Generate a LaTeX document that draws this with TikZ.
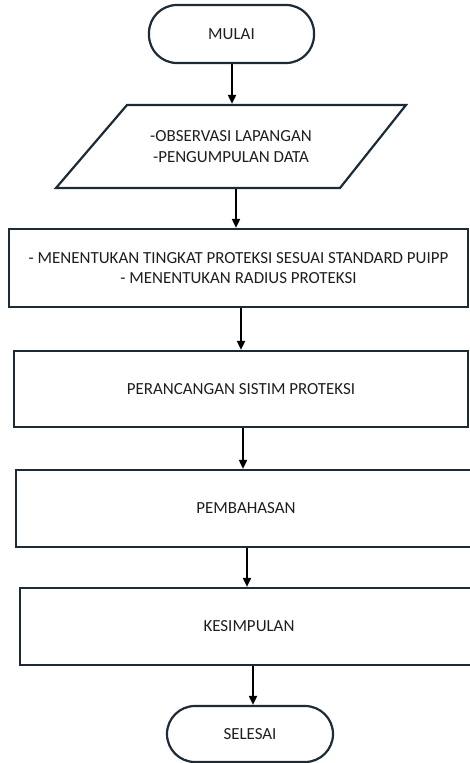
\documentclass[tikz,border=0pt]{standalone}
\usepackage{fontspec}
\setmainfont{Carlito}
\usetikzlibrary{arrows.meta,calc}
\definecolor{edgec}{RGB}{28,43,54}
\definecolor{txtc}{RGB}{30,30,30}
\tikzset{
 box/.style={draw=edgec, line width=2.2bp, rectangle, align=center, text=txtc, font=\fontsize{17}{20.5}\selectfont, inner sep=0pt},
 term/.style={box, rounded corners=28bp},
 arr/.style={-{Triangle[length=9bp,width=8bp]}, line width=1.8bp, black},
}
\begin{document}
\begin{tikzpicture}[x=1bp,y=-1bp]
\useasboundingbox (0,0) rectangle (470,763);
\node[term, minimum width=165bp, minimum height=58bp] (start) at (231.5,34) {MULAI};
\draw[edgec, line width=2.2bp, line join=miter] (127,105) -- (406,105) -- (340,188) -- (56,188) -- cycle;
\node[box, draw=none, minimum height=83bp, minimum width=200bp] (data) at (231,146.5) {-OBSERVASI LAPANGAN\\-PENGUMPULAN DATA};
\node[box, minimum width=459bp, minimum height=78bp] (b2) at (238.5,268) {- MENENTUKAN TINGKAT PROTEKSI SESUAI STANDARD PUIPP\\- MENENTUKAN RADIUS PROTEKSI};
\node[box, minimum width=454bp, minimum height=76bp] (b3) at (241,389) {PERANCANGAN SISTIM PROTEKSI};
\node[box, minimum width=460bp, minimum height=77bp] (b4) at (246,508.5) {PEMBAHASAN};
\node[box, minimum width=458bp, minimum height=77bp] (b5) at (249,626.5) {KESIMPULAN};
\node[term, minimum width=166bp, minimum height=56bp] (stop) at (250,734) {SELESAI};
\coordinate (a1) at ($(start.south)+(0.5,0)$);
\coordinate (a2) at ($(data.south)+(5,0)$);
\coordinate (a3) at ($(b2.south)+(2.5,0)$);
\coordinate (a4) at ($(b3.south)+(2,0)$);
\coordinate (a5) at ($(b4.south)+(1,0)$);
\coordinate (a6) at ($(b5.south)+(4,0)$);
\draw[arr] (a1) -- (a1 |- data.north);
\draw[arr] (a2) -- (a2 |- b2.north);
\draw[arr] (a3) -- (a3 |- b3.north);
\draw[arr] (a4) -- (a4 |- b4.north);
\draw[arr] (a5) -- (a5 |- b5.north);
\draw[arr] (a6) -- (a6 |- stop.north);
\end{tikzpicture}
\end{document}
